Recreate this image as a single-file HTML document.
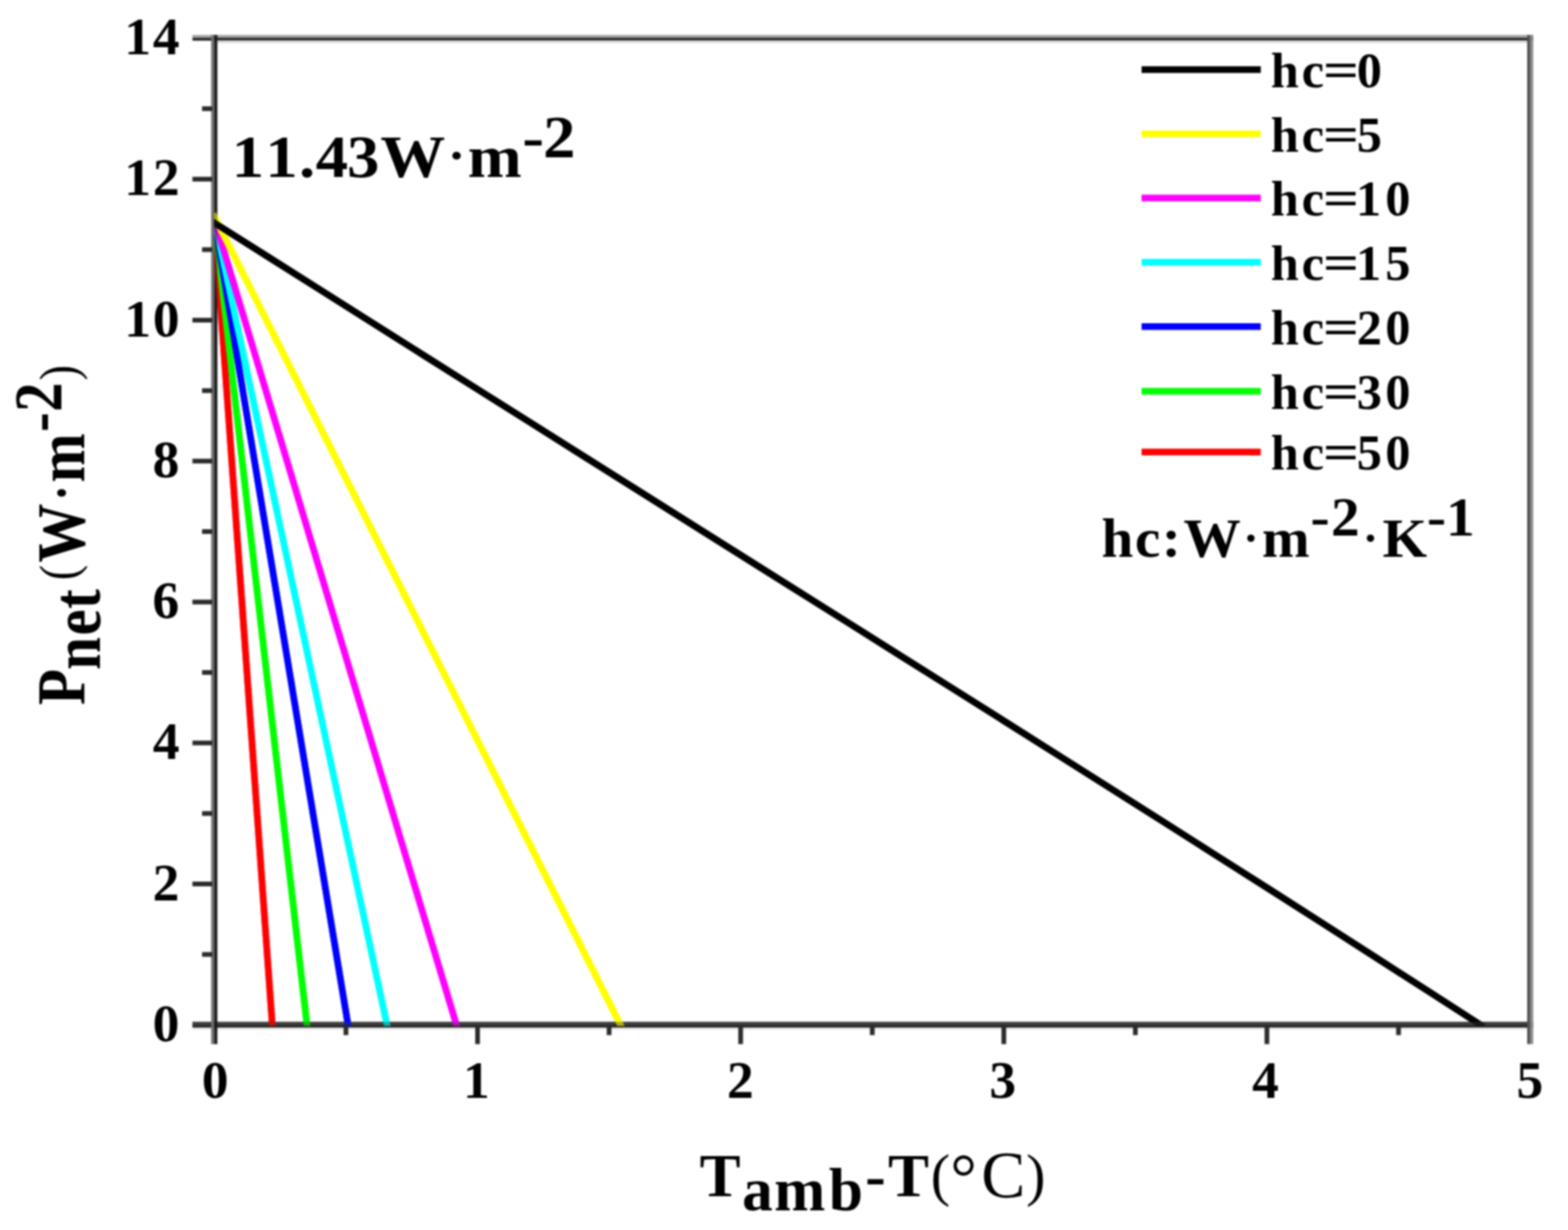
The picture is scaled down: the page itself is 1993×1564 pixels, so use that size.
<!DOCTYPE html>
<html lang="en"><head><meta charset="utf-8"><title>Pnet vs Tamb-T</title>
<style>
html,body{margin:0;padding:0;background:#fff;}
body{width:1993px;height:1564px;overflow:hidden;}
svg{display:block;filter:blur(1.3px);}
text{font-family:"Liberation Serif","DejaVu Serif",serif;font-weight:bold;fill:#000;white-space:pre;}
.r{font-weight:normal;}
</style></head><body>
<svg width="1993" height="1564" viewBox="0 0 1993 1564">
<rect x="-10" y="-10" width="2013" height="1584" fill="#ffffff"/>
<defs><clipPath id="plot"><rect x="272.2" y="48.6" width="1672.6" height="1255.8"/></clipPath></defs>
<g fill="none" stroke-width="8.4" stroke-linejoin="round" clip-path="url(#plot)" opacity="1">
<polyline points="272.2,274.7 272.5,278.9 346.1,1303.2 346.4,1307.4" stroke="#ff0000"/>
<polyline points="272.0,274.7 272.5,278.9 390.2,1303.2 390.7,1307.4" stroke="#00ff00"/>
<polyline points="271.8,274.8 272.5,278.9 442.4,1303.2 443.1,1307.3" stroke="#0000ff"/>
<polyline points="271.6,274.8 272.5,278.9 491.9,1303.2 492.8,1307.3" stroke="#00ffff"/>
<polyline points="271.3,274.9 272.5,278.9 580.2,1303.2 581.4,1307.2" stroke="#ff00ff"/>
<polyline points="270.6,271.6 272.5,275.3 788.6,1303.2 790.5,1307.0" stroke="#ffff00"/>
<polyline points="269.0,281.1 272.5,283.4 339.6,325.9 406.6,368.3 473.7,410.7 540.7,453.1 607.8,495.5 674.9,537.8 741.9,580.1 809.0,622.4 876.0,664.6 943.1,706.9 1010.2,749.1 1077.2,791.3 1144.3,833.6 1211.3,875.8 1278.4,918.1 1345.4,960.5 1412.5,1003.0 1479.6,1045.5 1546.6,1088.2 1613.7,1130.9 1680.7,1173.8 1747.8,1216.9 1814.9,1260.0 1881.9,1303.2 1885.5,1305.4" stroke="#000000"/>
</g>
<g stroke="none">
<rect x="244.6" y="44.5" width="1704.1" height="3.6" fill="#a0a0a0"/>
<rect x="244.6" y="48.1" width="1704.1" height="3.6" fill="#262626"/>
<rect x="276.3" y="51.7" width="1664.8" height="3.3" fill="#e0e0e0"/>
<rect x="244.6" y="1299.2" width="1704.1" height="3.8" fill="#404040"/>
<rect x="244.6" y="1303.0" width="1704.1" height="3.7" fill="#2a2a2a"/>
<rect x="244.6" y="1307.2" width="1704.1" height="2.8" fill="#efefef"/>
<rect x="268.4" y="44.5" width="3.8" height="1283.1" fill="#707070"/>
<rect x="272.2" y="44.5" width="4.1" height="1283.1" fill="#1c1c1c"/>
<rect x="1941.1" y="44.5" width="3.8" height="1283.1" fill="#505050"/>
<rect x="1944.9" y="44.5" width="3.8" height="1283.1" fill="#888888"/>
</g>
<g stroke="#2b2b2b" fill="none" stroke-linecap="butt" stroke-width="6">
<line x1="439.7" y1="1305.0" x2="439.7" y2="1316.2"/>
<line x1="607.0" y1="1305.0" x2="607.0" y2="1327.6"/>
<line x1="774.2" y1="1305.0" x2="774.2" y2="1316.2"/>
<line x1="941.4" y1="1305.0" x2="941.4" y2="1327.6"/>
<line x1="1108.7" y1="1305.0" x2="1108.7" y2="1316.2"/>
<line x1="1275.9" y1="1305.0" x2="1275.9" y2="1327.6"/>
<line x1="1443.1" y1="1305.0" x2="1443.1" y2="1316.2"/>
<line x1="1610.3" y1="1305.0" x2="1610.3" y2="1327.6"/>
<line x1="1777.6" y1="1305.0" x2="1777.6" y2="1316.2"/>
<line x1="270.0" y1="1213.6" x2="256.8" y2="1213.6"/>
<line x1="270.0" y1="1124.0" x2="244.6" y2="1124.0"/>
<line x1="270.0" y1="1034.4" x2="256.8" y2="1034.4"/>
<line x1="270.0" y1="944.7" x2="244.6" y2="944.7"/>
<line x1="270.0" y1="855.1" x2="256.8" y2="855.1"/>
<line x1="270.0" y1="765.5" x2="244.6" y2="765.5"/>
<line x1="270.0" y1="675.9" x2="256.8" y2="675.9"/>
<line x1="270.0" y1="586.3" x2="244.6" y2="586.3"/>
<line x1="270.0" y1="496.7" x2="256.8" y2="496.7"/>
<line x1="270.0" y1="407.1" x2="244.6" y2="407.1"/>
<line x1="270.0" y1="317.4" x2="256.8" y2="317.4"/>
<line x1="270.0" y1="227.8" x2="244.6" y2="227.8"/>
<line x1="270.0" y1="138.2" x2="256.8" y2="138.2"/>
</g>
<g fill="none" stroke-width="8.4" stroke-linejoin="round" clip-path="url(#plot)" opacity="0.6">
<polyline points="272.2,274.7 272.5,278.9 346.1,1303.2 346.4,1307.4" stroke="#ff0000"/>
<polyline points="272.0,274.7 272.5,278.9 390.2,1303.2 390.7,1307.4" stroke="#00ff00"/>
<polyline points="271.8,274.8 272.5,278.9 442.4,1303.2 443.1,1307.3" stroke="#0000ff"/>
<polyline points="271.6,274.8 272.5,278.9 491.9,1303.2 492.8,1307.3" stroke="#00ffff"/>
<polyline points="271.3,274.9 272.5,278.9 580.2,1303.2 581.4,1307.2" stroke="#ff00ff"/>
<polyline points="270.6,271.6 272.5,275.3 788.6,1303.2 790.5,1307.0" stroke="#ffff00"/>
<polyline points="269.0,281.1 272.5,283.4 339.6,325.9 406.6,368.3 473.7,410.7 540.7,453.1 607.8,495.5 674.9,537.8 741.9,580.1 809.0,622.4 876.0,664.6 943.1,706.9 1010.2,749.1 1077.2,791.3 1144.3,833.6 1211.3,875.8 1278.4,918.1 1345.4,960.5 1412.5,1003.0 1479.6,1045.5 1546.6,1088.2 1613.7,1130.9 1680.7,1173.8 1747.8,1216.9 1814.9,1260.0 1881.9,1303.2 1885.5,1305.4" stroke="#000000"/>
</g>
<text transform="translate(0.00,1396.30)"><tspan font-size="68" x="256.40" y="0.00">0</tspan></text>
<text transform="translate(0.00,1396.30)"><tspan font-size="68" x="588.44" y="0.00">1</tspan></text>
<text transform="translate(0.00,1396.30)"><tspan font-size="68" x="924.03" y="0.00">2</tspan></text>
<text transform="translate(0.00,1396.30)"><tspan font-size="68" x="1257.48" y="0.00">3</tspan></text>
<text transform="translate(0.00,1396.30)"><tspan font-size="68" x="1591.57" y="0.00">4</tspan></text>
<text transform="translate(0.00,1396.30)"><tspan font-size="68" x="1927.48" y="0.00">5</tspan></text>
<text transform="translate(0.00,1323.80)"><tspan font-size="68" x="194.00" y="0.00">0</tspan></text>
<text transform="translate(0.00,1144.57)"><tspan font-size="68" x="194.03" y="0.00">2</tspan></text>
<text transform="translate(0.00,965.34)"><tspan font-size="68" x="194.17" y="0.00">4</tspan></text>
<text transform="translate(0.00,786.11)"><tspan font-size="68" x="193.83" y="0.00">6</tspan></text>
<text transform="translate(0.00,606.89)"><tspan font-size="68" x="194.00" y="0.00">8</tspan></text>
<text transform="translate(0.00,427.66)"><tspan font-size="68" x="158.04 194.20" y="0.00">10</tspan></text>
<text transform="translate(0.00,248.43)"><tspan font-size="68" x="158.04 194.23" y="0.00">12</tspan></text>
<text transform="translate(0.00,69.20)"><tspan font-size="68" x="158.04 194.37" y="0.00">14</tspan></text>
<line x1="1451" y1="88.5" x2="1602.5" y2="88.5" stroke="#000000" stroke-width="8.5"/>
<text transform="translate(0.00,110.80)"><tspan font-size="64" x="1615.19 1654.40" y="0.00">hc</tspan><tspan font-size="64" x="1681.54" y="0.00" textLength="45.95" lengthAdjust="spacingAndGlyphs">=</tspan><tspan font-size="64" x="1724.50" y="0.00">0</tspan></text>
<line x1="1451" y1="170.3" x2="1602.5" y2="170.3" stroke="#ffff00" stroke-width="8.5"/>
<text transform="translate(0.00,192.60)"><tspan font-size="64" x="1615.19 1654.40" y="0.00">hc</tspan><tspan font-size="64" x="1681.54" y="0.00" textLength="45.95" lengthAdjust="spacingAndGlyphs">=</tspan><tspan font-size="64" x="1724.39" y="0.00">5</tspan></text>
<line x1="1451" y1="251.8" x2="1602.5" y2="251.8" stroke="#ff00ff" stroke-width="8.5"/>
<text transform="translate(0.00,274.10)"><tspan font-size="64" x="1615.19 1654.40" y="0.00">hc</tspan><tspan font-size="64" x="1681.54" y="0.00" textLength="45.95" lengthAdjust="spacingAndGlyphs">=</tspan><tspan font-size="64" x="1723.59 1760.80" y="0.00">10</tspan></text>
<line x1="1451" y1="333.6" x2="1602.5" y2="333.6" stroke="#00ffff" stroke-width="8.5"/>
<text transform="translate(0.00,355.90)"><tspan font-size="64" x="1615.19 1654.40" y="0.00">hc</tspan><tspan font-size="64" x="1681.54" y="0.00" textLength="45.95" lengthAdjust="spacingAndGlyphs">=</tspan><tspan font-size="64" x="1723.59 1760.69" y="0.00">15</tspan></text>
<line x1="1451" y1="415.2" x2="1602.5" y2="415.2" stroke="#0000ff" stroke-width="8.5"/>
<text transform="translate(0.00,437.50)"><tspan font-size="64" x="1615.19 1654.40" y="0.00">hc</tspan><tspan font-size="64" x="1681.54" y="0.00" textLength="45.95" lengthAdjust="spacingAndGlyphs">=</tspan><tspan font-size="64" x="1724.53 1760.80" y="0.00">20</tspan></text>
<line x1="1451" y1="497.5" x2="1602.5" y2="497.5" stroke="#00ff00" stroke-width="8.5"/>
<text transform="translate(0.00,519.80)"><tspan font-size="64" x="1615.19 1654.40" y="0.00">hc</tspan><tspan font-size="64" x="1681.54" y="0.00" textLength="45.95" lengthAdjust="spacingAndGlyphs">=</tspan><tspan font-size="64" x="1724.39 1760.80" y="0.00">30</tspan></text>
<line x1="1451" y1="574.8" x2="1602.5" y2="574.8" stroke="#ff0000" stroke-width="8.5"/>
<text transform="translate(0.00,597.10)"><tspan font-size="64" x="1615.19 1654.40" y="0.00">hc</tspan><tspan font-size="64" x="1681.54" y="0.00" textLength="45.95" lengthAdjust="spacingAndGlyphs">=</tspan><tspan font-size="64" x="1724.39 1760.80" y="0.00">50</tspan></text>
<text transform="translate(0.00,707.50) scale(1.04,1)"><tspan font-size="70" x="1346.25 1387.03 1419.85 1446.30" y="0.00">hc:W</tspan><tspan font-size="56" x="1519.52" y="-4.30">·</tspan><tspan font-size="70" x="1542.23" y="0.00">m</tspan><tspan font-size="70" x="1601.71 1626.67" y="-26.50">-2</tspan><tspan font-size="56" x="1665.58" y="-4.30">·</tspan><tspan font-size="70" x="1689.57" y="0.00">K</tspan><tspan font-size="70" x="1744.02 1767.37" y="-26.50">-1</tspan></text>
<text transform="translate(0.00,225.30) scale(1.07,1)"><tspan font-size="77" x="275.27 315.17 355.14 375.05 412.21 451.84" y="0.00">11.43W</tspan><tspan font-size="62" x="532.11" y="-7.00">·</tspan><tspan font-size="77" x="555.68" y="0.00">m</tspan><tspan font-size="77" x="620.45 645.18" y="-25.00">-2</tspan></text>
<text transform="translate(0.00,1520.50)"><tspan font-size="78" x="889.17" y="0.00">T</tspan><tspan font-size="78" x="943.13 984.03 1053.50" y="18.00">amb</tspan><tspan font-size="78" x="1099.71 1128.77" y="0.00">-T</tspan><tspan class="r" font-size="74" x="1182.95" y="-2.00">(</tspan><tspan class="r" font-size="84" x="1207.95" y="5.50">°</tspan><tspan class="r" font-size="84" x="1247.18" y="2.20">C</tspan><tspan class="r" font-size="74" x="1304.31" y="-2.00">)</tspan></text>
<text transform="translate(107.00,900.00) rotate(-90) scale(1,1.16)"><tspan font-size="75" x="3.41" y="0.00">P</tspan><tspan font-size="75" x="48.20 91.94 125.87" y="16.81">net</tspan><tspan class="r" font-size="58" x="162.20" y="-9.05">(</tspan><tspan font-size="75" x="184.75" y="0.00">W</tspan><tspan font-size="60" x="263.21" y="-5.17">·</tspan><tspan font-size="75" x="286.40" y="0.00">m</tspan><tspan font-size="75" x="350.71 376.29" y="-25.00">-2</tspan><tspan class="r" font-size="58" x="416.48" y="-9.05">)</tspan></text>
</svg>
</body></html>
